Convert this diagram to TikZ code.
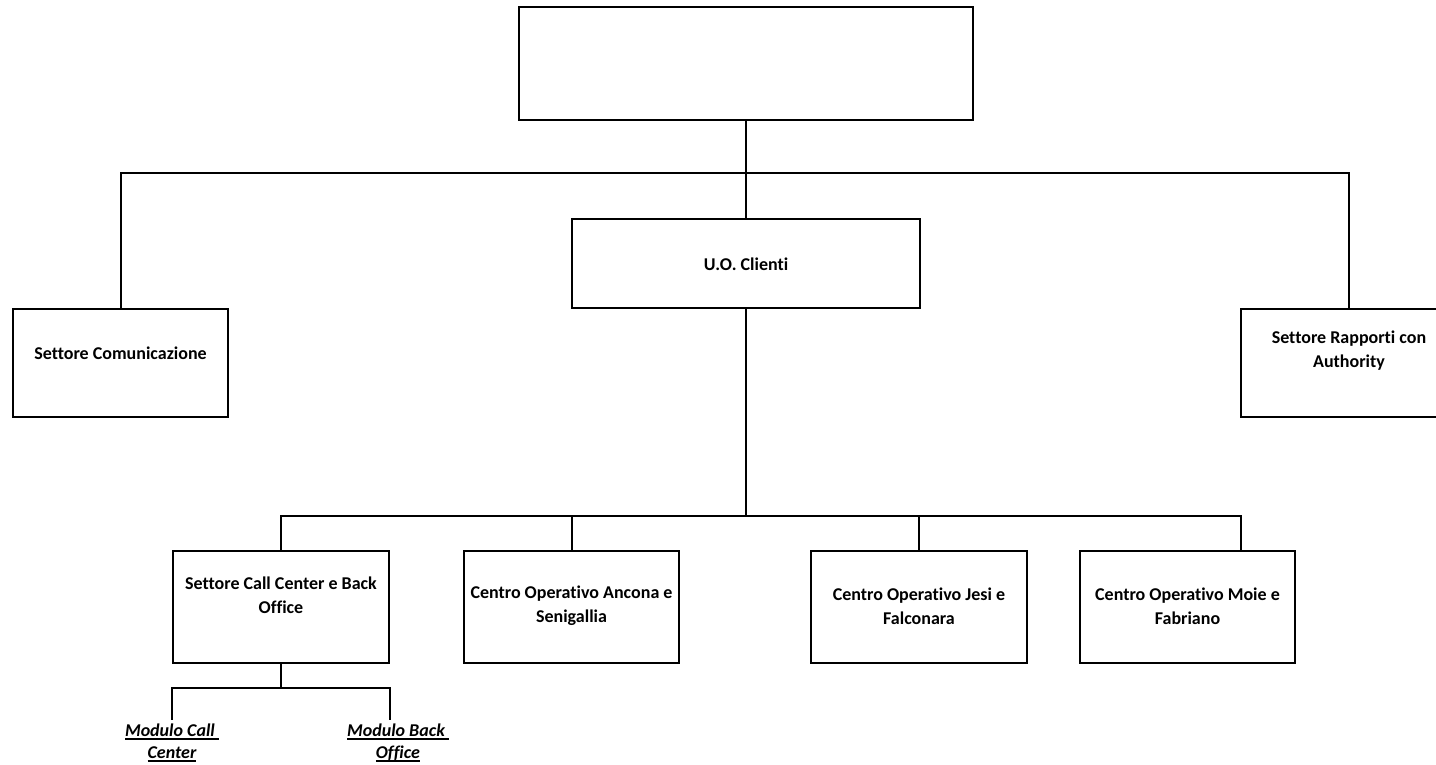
\documentclass[tikz,border=0pt]{standalone}
\usepackage{fontspec}
\setmainfont{Carlito}[Ligatures=NoCommon]
\usepackage{tikz}
\newcommand{\undl}[1]{\setbox0\hbox{#1}\rlap{\vrule width\wd0 height -1.5pt depth 3.5pt}\box0}
\tikzset{
	box/.style={shape=rectangle, draw, line width=2pt, inner sep=0pt},
	txt/.style={align=center, font=\fontsize{18}{24}\selectfont\bfseries},
	mod/.style={align=center, font=\fontsize{18}{22}\selectfont\bfseries\itshape}
}
\begin{document}
\begin{tikzpicture}[x=1pt, y=-1pt, line width=2pt]
				\useasboundingbox (0, 0) rectangle (1436, 765);
				% Boxes and texts:
				\node[box, minimum width=454, minimum height=113](Top) at (746, 63.5){};
				\node[box, minimum width=348, minimum height=89](UO) at (746, 263.5){} node[txt](UOT) at (746, 264){U.O. Clienti};
				\node[box, minimum width=215, minimum height=108](Com) at (120.5, 363){} node[txt](ComT) at (120.5, 353){Settore Comunicazione};
				\node[box, minimum width=216, minimum height=108](Auth) at (1349, 363){} node[txt](AuthT) at (1349, 351){Settore Rapporti con\\Authority};
				\node[box, minimum width=216, minimum height=112](CC) at (281, 607){} node[txt](CCT) at (281, 595){Settore Call Center e Back\\Office};
				\node[box, minimum width=215, minimum height=112](AN) at (571.5, 607){} node[txt](ANT) at (571.5, 606){Centro Operativo Ancona e\\Senigallia};
				\node[box, minimum width=216, minimum height=112](JE) at (919, 607){} node[txt](JET) at (919, 606){Centro Operativo Jesi e\\Falconara};
				\node[box, minimum width=215, minimum height=112](MO) at (1187.5, 607){} node[txt](MOT) at (1187.5, 606){Centro Operativo Moie e\\Fabriano};
				\node[mod](MC) at (172, 743){\undl{Modulo Call\ }\\\undl{Center}};
				\node[mod](MB) at (398, 743){\undl{Modulo Back\ }\\\undl{Office}};
				% Wires:
				\coordinate (J1) at (746, 173);
				\coordinate (J2) at (746, 516);
				\coordinate (J3) at (1241, 516);
				\coordinate (J4) at (281, 688);
				\draw (Top.south) -- (UO.north);
				\draw (Com.north) |- (J1) -| (Auth.north);
				\draw (UO.south) -- (J2);
				\draw (CC.north) |- (J3) -- (J3 |- MO.north);
				\draw (AN.north) -- (AN.north |- J2);
				\draw (JE.north) -- (JE.north |- J2);
				\draw (CC.south) -- (J4);
				\draw (CC.south west |- MC.north) |- (J4) -| (CC.south east |- MB.north);
			\end{tikzpicture}
\end{document}
